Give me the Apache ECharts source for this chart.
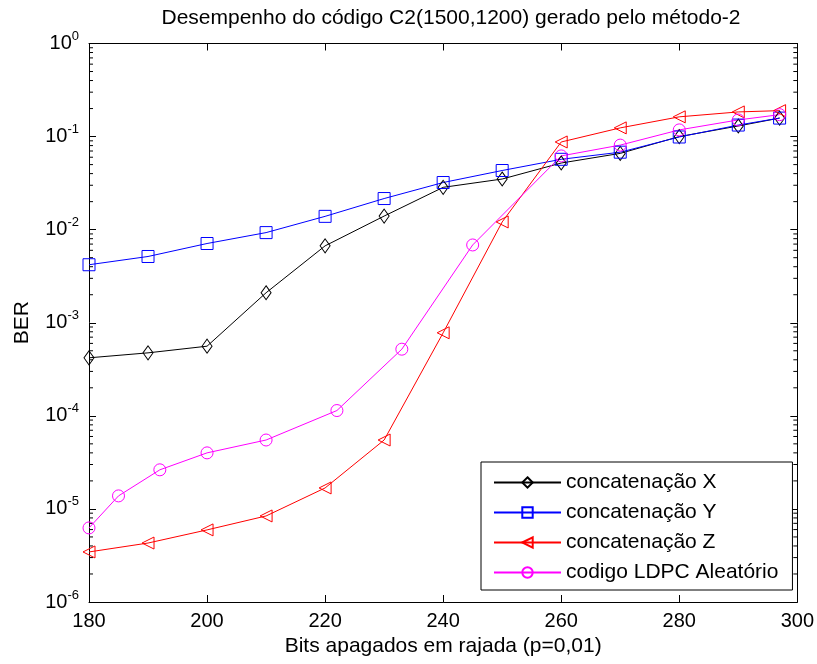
<!DOCTYPE html>
<html>
<head>
<meta charset="utf-8">
<script src="https://cdn.jsdelivr.net/npm/echarts@6/dist/echarts.min.js"></script>
<style>html,body{margin:0;padding:0;background:#fff}#c{width:817px;height:664px}</style>
</head>
<body>
<div id="c"></div>
<script>
// ---- data ----
var xX = [180,190,200,210,220,230,240,250,260,270,280,290,297];
var berX = [4.2e-4,4.75e-4,5.6e-4,2.1e-3,6.7e-3,0.0140,0.0285,0.035,0.052,0.066,0.100,0.130,0.158];
var xY = [180,190,200,210,220,230,240,250,260,270,280,290,297];
var berY = [4.2e-3,5.15e-3,7.1e-3,9.3e-3,0.0139,0.0216,0.0321,0.0432,0.057,0.068,0.099,0.133,0.158];
var xZ = [180,190,200,210,220,230,240,250,260,270,280,290,297];
var berZ = [3.45e-6,4.3e-6,5.95e-6,8.4e-6,1.68e-5,5.5e-5,7.8e-4,0.0121,0.0875,0.124,0.163,0.184,0.19];
var xL = [180,185,192,200,210,222,233,245,260,270,280,290,297];
var berL = [6.25e-6,1.38e-5,2.63e-5,4.0e-5,5.5e-5,1.14e-4,5.2e-4,6.85e-3,0.062,0.081,0.118,0.151,0.172];
var seriesNames = ['concatenação X','concatenação Y','concatenação Z','codigo LDPC Aleatório'];
var xTicks = [180,200,220,240,260,280,300];
var titleText = 'Desempenho do código C2(1500,1200) gerado pelo método-2';
var xName = 'Bits apagados em rajada (p=0,01)';
var yName = 'BER';

function pairs(xs, ys){ return xs.map(function(x,i){ return [x, ys[i]]; }); }

var FONT = 'Liberation Sans, Arial, sans-serif';
var chart = echarts.init(document.getElementById('c'), null, {renderer:'canvas'});

function mkSeries(name, xs, ys, color, symbol, size, rotate){
  return {
    name: name, type: 'line', data: pairs(xs, ys),
    symbol: symbol, symbolSize: size, symbolRotate: rotate || 0, showAllSymbol: true,
    lineStyle: {color: color, width: 1},
    itemStyle: {color: '#ffffff00', borderColor: color, borderWidth: 1},
    emphasis: {disabled: true},
    z: 3
  };
}

var axisLineStyle = {lineStyle: {color: '#000', width: 1}};
var option = {
  animation: false,
  backgroundColor: '#fff',
  textStyle: {fontFamily: FONT},
  title: {
    text: titleText, left: 446, top: 3, textAlign: 'center',
    textStyle: {fontSize: 21, fontWeight: 'normal', color: '#000', fontFamily: FONT}
  },
  grid: {left: 89, right: 17, top: 43.5, bottom: 62, containLabel: false},
  legend: {
    orient: 'vertical', left: 481, top: 462,
    data: seriesNames,
    backgroundColor: '#fff', borderColor: '#000', borderWidth: 1, borderRadius: 0,
    padding: [10, 14, 7, 12], itemGap: 9, itemWidth: 67, itemHeight: 13,
    textStyle: {fontSize: 21, color: '#000', fontFamily: FONT},
    selectedMode: false
  },
  xAxis: [{
    type: 'value', min: 180, max: 300, interval: 20, position: 'bottom',
    name: xName, nameLocation: 'middle', nameGap: 33,
    nameTextStyle: {fontSize: 21, color: '#000', fontFamily: FONT},
    axisLine: axisLineStyle,
    axisTick: {show: true, inside: true, length: 7, lineStyle: {color: '#000'}},
    axisLabel: {fontSize: 20, color: '#000', margin: 9, fontFamily: FONT},
    splitLine: {show: false}
  }, {
    type: 'value', min: 180, max: 300, interval: 20, position: 'top',
    axisLine: axisLineStyle,
    axisTick: {show: true, inside: true, length: 7, lineStyle: {color: '#000'}},
    axisLabel: {show: false}, splitLine: {show: false}
  }],
  yAxis: [{
    type: 'log', logBase: 10, min: 1e-6, max: 1, splitNumber: 6, position: 'left',
    name: yName, nameLocation: 'middle', nameGap: 56, nameRotate: 90,
    nameTextStyle: {fontSize: 21, color: '#000', fontFamily: FONT},
    axisLine: axisLineStyle,
    axisTick: {show: true, inside: true, length: 7, lineStyle: {color: '#000'}},
    axisLabel: {
      margin: 10, color: '#000',
      formatter: function(v){ var e = Math.round(Math.log10(v)); return '{b|10}{s|' + e + '}'; },
      rich: {
        b: {fontSize: 20, fontFamily: FONT, color: '#000'},
        s: {fontSize: 13, fontFamily: FONT, color: '#000', verticalAlign: 'top', padding: [0,0,14,0]}
      }
    },
    splitLine: {show: false}
  }, {
    type: 'log', logBase: 10, min: 1e-6, max: 1, splitNumber: 6, position: 'right',
    axisLine: axisLineStyle,
    axisTick: {show: true, inside: true, length: 7, lineStyle: {color: '#000'}},
    axisLabel: {show: false}, splitLine: {show: false}
  }],
  series: [
    mkSeries(seriesNames[0], xX, berX, '#000000', 'diamond', [10,14], 0),
    mkSeries(seriesNames[1], xY, berY, '#0000ff', 'rect', 12, 0),
    mkSeries(seriesNames[2], xZ, berZ, '#ff0000', 'triangle', 12, 90),
    mkSeries(seriesNames[3], xL, berL, '#ff00ff', 'circle', 12, 0)
  ]
};
chart.setOption(option);

// minor ticks on the log axes (2..9 x 10^k), placed through the axis scale
var g = [];
var leftX = chart.convertToPixel({xAxisIndex: 0}, 180);
var rightX = chart.convertToPixel({xAxisIndex: 0}, 300);
for (var k = -6; k < 0; k++) {
  for (var m = 2; m <= 9; m++) {
    var py = chart.convertToPixel({yAxisIndex: 0}, m * Math.pow(10, k));
    g.push({type: 'line', shape: {x1: leftX, y1: py, x2: leftX + 4, y2: py}, style: {stroke: '#000', lineWidth: 1}, silent: true});
    g.push({type: 'line', shape: {x1: rightX - 4, y1: py, x2: rightX, y2: py}, style: {stroke: '#000', lineWidth: 1}, silent: true});
  }
}
chart.setOption({graphic: g});
</script>
</body>
</html>
